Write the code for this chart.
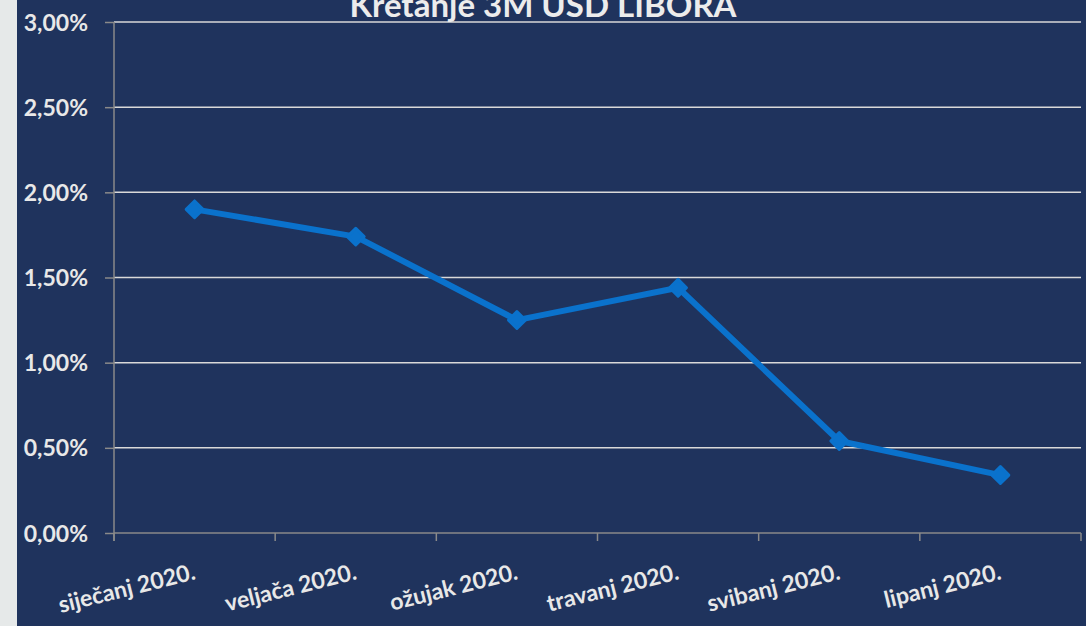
<!DOCTYPE html>
<html>
<head>
<meta charset="utf-8">
<script src="https://cdn.jsdelivr.net/npm/d3@7"></script>
<style>
  body { margin: 0; background: #1f335d; }
  svg { display: block; }
</style>
</head>
<body>
<div id="chart"></div>
<script>
let months = ['siječanj 2020.', 'veljača 2020.', 'ožujak 2020.', 'travanj 2020.', 'svibanj 2020.', 'lipanj 2020.']
let libor = [0.0190, 0.0174, 0.0125, 0.0144, 0.0054, 0.0034]
let yTicks = [0, 0.005, 0.01, 0.015, 0.02, 0.025, 0.03]
let title = 'Kretanje 3M USD LIBORA'

let width = 1086
let height = 626
let margin = { top: 22, left: 114, right: 5, bottom: 93 }

let svg = d3
  .select('#chart')
  .append('svg')
  .attr('width', width)
  .attr('height', height)

svg.append('rect').attr('width', width).attr('height', height).attr('fill', '#1f335d')
svg.append('rect').attr('width', 17).attr('height', height).attr('fill', '#e6e9e9')

let xPositionScale = d3
  .scaleBand()
  .domain(months)
  .range([margin.left, width - margin.right])
  .padding(0)

let yPositionScale = d3
  .scaleLinear()
  .domain([0, 0.03])
  .range([height - margin.bottom, margin.top])

let fmt = d => d3.format('.2f')(d * 100).replace('.', ',') + '%'

// gridlines
svg
  .selectAll('.grid')
  .data(yTicks.filter(d => d > 0))
  .enter()
  .append('line')
  .attr('class', 'grid')
  .attr('x1', margin.left)
  .attr('x2', width - margin.right)
  .attr('y1', d => yPositionScale(d))
  .attr('y2', d => yPositionScale(d))
  .attr('stroke', '#d9d9d9')
  .attr('stroke-width', 1.5)

// y axis
let yAxis = d3
  .axisLeft(yPositionScale)
  .tickValues(yTicks)
  .tickFormat(fmt)
  .tickSize(9)
  .tickPadding(17)

let yG = svg
  .append('g')
  .attr('class', 'axis y-axis')
  .attr('transform', 'translate(' + margin.left + ',0)')
  .call(yAxis)

yG.select('.domain').remove()
yG.selectAll('line').attr('stroke', '#8a8a8a').attr('stroke-width', 1.5)
yG
  .selectAll('text')
  .attr('fill', '#e8e8e8')
  .attr('font-family', 'Lato, "Open Sans", sans-serif')
  .attr('font-weight', 'bold')
  .attr('font-size', 23)
  .attr('dy', '0.35em')

svg
  .append('line')
  .attr('x1', margin.left)
  .attr('x2', margin.left)
  .attr('y1', margin.top)
  .attr('y2', height - margin.bottom + 8)
  .attr('stroke', '#8a8a8a')
  .attr('stroke-width', 1.5)

// x axis
let xEdges = months.map(m => xPositionScale(m)).concat([width - margin.right])
let base = height - margin.bottom

svg
  .append('line')
  .attr('x1', margin.left)
  .attr('x2', width - margin.right)
  .attr('y1', base)
  .attr('y2', base)
  .attr('stroke', '#8a8a8a')
  .attr('stroke-width', 1.5)

svg
  .selectAll('.xtick')
  .data(xEdges)
  .enter()
  .append('line')
  .attr('class', 'xtick')
  .attr('x1', d => d)
  .attr('x2', d => d)
  .attr('y1', base)
  .attr('y2', base + 8)
  .attr('stroke', '#8a8a8a')
  .attr('stroke-width', 1.5)

svg
  .selectAll('.xlabel')
  .data(months)
  .enter()
  .append('text')
  .attr('class', 'xlabel')
  .attr('text-anchor', 'end')
  .attr('transform', d => {
    let x = xPositionScale(d) + xPositionScale.bandwidth() / 2 + 2
    return 'translate(' + x + ',' + (base + 46) + ') rotate(-14)'
  })
  .attr('fill', '#e8e8e8')
  .attr('font-family', 'Lato, "Open Sans", sans-serif')
  .attr('font-weight', 'bold')
  .attr('font-size', 23)
  .text(d => d)

// line
let line = d3
  .line()
  .x((d, i) => xPositionScale(months[i]) + xPositionScale.bandwidth() / 2)
  .y(d => yPositionScale(d))

svg
  .append('path')
  .datum(libor)
  .attr('d', line)
  .attr('fill', 'none')
  .attr('stroke', '#0a72cc')
  .attr('stroke-width', 6)
  .attr('stroke-linejoin', 'round')

let diamond = d3.symbol().type(d3.symbolDiamond2).size(180)

svg
  .selectAll('.marker')
  .data(libor)
  .enter()
  .append('path')
  .attr('class', 'marker')
  .attr('d', diamond)
  .attr('transform', (d, i) => {
    let x = xPositionScale(months[i]) + xPositionScale.bandwidth() / 2
    return 'translate(' + x + ',' + yPositionScale(d) + ')'
  })
  .attr('fill', '#0a72cc')
  .attr('stroke', '#0a72cc')
  .attr('stroke-width', 3)
  .attr('stroke-linejoin', 'round')

// title
svg
  .append('text')
  .attr('x', 543)
  .attr('y', 17)
  .attr('text-anchor', 'middle')
  .attr('fill', '#ececec')
  .attr('font-family', 'Lato, "Open Sans", sans-serif')
  .attr('font-weight', 'bold')
  .attr('font-size', 33)
  .text(title)
</script>
</body>
</html>
